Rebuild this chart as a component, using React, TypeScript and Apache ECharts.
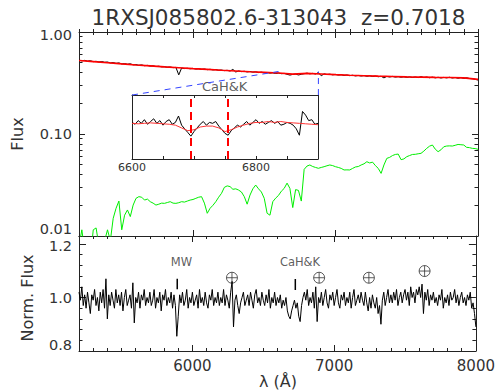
import React, { useEffect, useRef } from 'react';
import * as echarts from 'echarts';

// ---------------- data ----------------
const TITLE = '1RXSJ085802.6-313043  z=0.7018';
const WAVE_MIN = 5200;
const WAVE_MAX = 8000;

// normalized flux (bottom panel), 10 A grid
const RESID_START = 5200;
const RESID_STEP = 10;
const residFlux = [
  1.02, 0.99, 1.04, 0.97, 1.01, 0.96, 1.02, 0.98, 0.94, 1.01,
  0.99, 1.03, 0.97, 1.00, 0.95, 1.02, 0.98, 1.03, 0.96, 1.07,
  0.92, 1.01, 0.97, 1.02, 0.99, 0.96, 1.03, 0.98, 1.01, 0.97,
  1.02, 0.95, 1.00, 1.03, 0.97, 0.99, 1.01, 0.96, 1.055, 0.905,
  1.00, 0.98, 1.02, 0.96, 1.01, 0.99, 1.03, 0.97, 1.00, 0.98,
  1.02, 0.97, 0.99, 1.03, 0.96, 1.00, 0.98, 1.02, 0.95, 1.01,
  0.99, 1.03, 0.97, 1.00, 0.98, 1.02, 0.96, 1.01, 0.97, 0.855,
  0.93, 1.01, 0.98, 1.02, 0.97, 0.99, 1.03, 0.96, 1.00, 0.98,
  1.02, 0.97, 0.99, 1.01, 0.96, 1.03, 0.98, 1.00, 0.97, 1.02,
  0.98, 0.96, 1.01, 0.99, 1.03, 0.97, 1.00, 0.98, 1.02, 0.97,
  1.00, 0.98, 1.03, 0.97, 1.01, 0.99, 0.96, 1.02, 1.06, 0.89,
  0.99, 1.01, 0.97, 0.94, 0.98, 1.00, 1.02, 0.97, 0.99, 1.01,
  0.97, 1.02, 0.99, 0.96, 1.01, 1.03, 0.98, 1.00, 0.97, 1.02,
  0.99, 0.97, 1.01, 0.98, 1.03, 0.96, 1.00, 0.98, 1.02, 0.97,
  1.00, 0.98, 1.01, 0.96, 0.99, 0.97, 1.00, 0.95, 0.93, 0.92,
  0.95, 0.97, 0.99, 0.96, 0.98, 0.93, 0.91, 0.97, 1.00, 1.02,
  0.99, 1.03, 0.97, 1.00, 0.98, 1.02, 0.96, 1.04, 0.91, 1.00,
  0.98, 1.02, 0.97, 1.00, 1.03, 0.98, 0.96, 1.01, 0.99, 1.02,
  0.97, 1.00, 1.03, 0.98, 0.96, 1.01, 0.99, 1.02, 0.97, 1.00,
  0.98, 1.02, 0.96, 1.00, 1.03, 0.97, 0.99, 1.01, 0.98, 1.02,
  0.99, 0.97, 1.02, 0.98, 0.95, 1.00, 0.96, 1.01, 0.98, 0.96,
  1.00, 0.94, 0.97, 0.90, 0.99, 1.02, 0.97, 1.00, 1.03, 0.98,
  1.01, 0.98, 1.02, 0.99, 1.03, 0.97, 1.00, 1.02, 0.98, 1.01,
  1.03, 0.99, 1.02, 0.97, 1.04, 1.00, 1.02, 0.98, 1.03, 1.01,
  1.04, 1.00, 1.05, 0.94, 1.02, 0.99, 1.03, 0.97, 1.01, 0.99,
  1.02, 0.98, 1.00, 0.97, 1.01, 0.99, 1.03, 0.96, 1.00, 0.98,
  1.01, 0.97, 1.02, 0.99, 1.00, 1.03, 0.98, 1.01, 0.97, 1.00,
  1.02, 0.98, 1.00, 0.97, 1.01, 0.99, 1.02, 0.96, 0.98, 0.94,
  0.89,
];

// observed flux (top panel, black), 20 A grid
const OBS_START = 5200;
const OBS_STEP = 20;
const obsFlux = [
  0.53, 0.522, 0.527, 0.518, 0.523, 0.512, 0.516, 0.508, 0.513, 0.505,
  0.508, 0.497, 0.502, 0.493, 0.498, 0.486, 0.49, 0.483, 0.488, 0.476,
  0.479, 0.472, 0.476, 0.467, 0.471, 0.463, 0.466, 0.458, 0.462, 0.455,
  0.457, 0.451, 0.454, 0.447, 0.45, 0.38, 0.443, 0.438, 0.441, 0.436,
  0.44, 0.433, 0.436, 0.43, 0.434, 0.427, 0.431, 0.425, 0.428, 0.421,
  0.424, 0.418, 0.421, 0.414, 0.43, 0.405, 0.416, 0.409, 0.412, 0.406,
  0.41, 0.404, 0.407, 0.4, 0.404, 0.398, 0.401, 0.395, 0.398, 0.392,
  0.396, 0.39, 0.393, 0.385, 0.378, 0.384, 0.387, 0.379, 0.385, 0.39,
  0.395, 0.389, 0.393, 0.387, 0.4, 0.372, 0.389, 0.383, 0.386, 0.38,
  0.384, 0.378, 0.381, 0.375, 0.379, 0.373, 0.377, 0.371, 0.375, 0.37,
  0.374, 0.368, 0.372, 0.366, 0.37, 0.364, 0.368, 0.355, 0.367, 0.362,
  0.367, 0.361, 0.365, 0.36, 0.364, 0.359, 0.363, 0.358, 0.362, 0.357,
  0.365, 0.358, 0.362, 0.356, 0.361, 0.355, 0.36, 0.354, 0.359, 0.355,
  0.36, 0.354, 0.358, 0.352, 0.357, 0.351, 0.356, 0.35, 0.348, 0.344,
  0.338,
];

// model (top panel, red), 100 A grid
const MODEL_START = 5200;
const MODEL_STEP = 100;
const modelFlux = [
  0.525, 0.512, 0.5, 0.487, 0.475, 0.465, 0.455, 0.446, 0.437, 0.43,
  0.422, 0.415, 0.408, 0.402, 0.396, 0.386, 0.393, 0.388, 0.382, 0.377,
  0.373, 0.369, 0.366, 0.363, 0.361, 0.359, 0.358, 0.355, 0.343,
];

// template (top panel, green), 20 A grid
const TEMPLATE_START = 5200;
const TEMPLATE_STEP = 20;
const templateFlux = [
  0.008, 0.0115, 0.007, 0.009, 0.006, 0.0115, 0.012, 0.008, 0.007, 0.009,
  0.0115, 0.009, 0.0149, 0.0187, 0.022, 0.0115, 0.016, 0.018, 0.0155, 0.0201,
  0.0234, 0.0243, 0.024, 0.0225, 0.023, 0.0217, 0.021, 0.0201, 0.0205, 0.021,
  0.0209, 0.0213, 0.0217, 0.021, 0.0209, 0.0212, 0.0217, 0.0215, 0.022, 0.0225,
  0.0228, 0.0234, 0.024, 0.0243, 0.021, 0.0167, 0.0187, 0.02, 0.0217, 0.024,
  0.0262, 0.03, 0.031, 0.0305, 0.0287, 0.029, 0.0282, 0.027, 0.0243, 0.0205,
  0.0252, 0.029, 0.0316, 0.029, 0.027, 0.0234, 0.0167, 0.016, 0.0217, 0.0235,
  0.025, 0.0275, 0.0293, 0.033, 0.0293, 0.019, 0.0285, 0.028, 0.022, 0.045,
  0.0485, 0.0497, 0.048, 0.047, 0.0461, 0.047, 0.0478, 0.0488, 0.0497, 0.049,
  0.0478, 0.047, 0.046, 0.0444, 0.0445, 0.0444, 0.046, 0.0475, 0.048, 0.0497,
  0.051, 0.0535, 0.052, 0.053, 0.049, 0.046, 0.0411, 0.0497, 0.0577, 0.059,
  0.0615, 0.063, 0.0636, 0.056, 0.057, 0.0599, 0.0615, 0.063, 0.0632, 0.064,
  0.0646, 0.068, 0.0723, 0.076, 0.078, 0.071, 0.0671, 0.07, 0.075, 0.0762,
  0.0765, 0.0762, 0.0775, 0.079, 0.0785, 0.078, 0.074, 0.0735, 0.0723, 0.072,
  0.0708,
];

// inset: observed (5 A grid) and model (10 A grid), normalized
const INSET_MIN = 6600;
const INSET_MAX = 6900;
const INSET_OBS_STEP = 5;
const insetObs = [
  1.0, 0.98, 1.02, 0.99, 1.03, 0.98, 1.01, 1.04, 0.99, 1.02,
  0.97, 1.01, 1.03, 0.98, 1.0, 1.07, 0.97, 0.93, 0.89, 0.85,
  0.9, 0.94, 0.98, 1.01, 0.97, 1.0, 0.99, 1.01, 0.96, 0.92,
  0.88, 0.86, 0.91, 0.94, 0.97, 0.95, 0.98, 1.01, 0.97, 1.0,
  1.03, 0.99, 1.01, 0.98, 1.0, 1.02, 0.99, 1.01, 0.97, 0.98,
  1.0, 0.99, 0.97, 0.93, 0.86, 1.12, 1.08, 1.02, 1.03, 0.98,
  0.99,
];
const INSET_MODEL_STEP = 10;
const insetModel = [
  0.99, 0.985, 0.99, 0.995, 0.99, 0.985, 0.98, 0.97, 0.94, 0.91,
  0.92, 0.95, 0.96, 0.96, 0.94, 0.9, 0.92, 0.95, 0.97, 0.99,
  1.0, 1.0, 1.01, 1.0, 1.01, 1.0, 0.995, 0.99, 0.985, 0.98,
  0.975,
];
const caLines = [6694, 6754];

// annotations
const telluricMarks = [[6279, 1.074], [6894, 1.074], [7245, 1.074], [7638, 1.099]];
const mwTick = [[5893, 1.031], [5893, 1.07]];
const caTick = [[6726, 1.028], [6726, 1.069]];
const bottomLabels = [
  { name: 'MW', value: [5923, 1.133] },
  { name: 'CaH&K', value: [6759, 1.134] },
];
const topLabels = [{ name: 'CaH&K', value: [6222, 0.294] }];
const connectorLeft = [[5572, 0.241], [6600, 0.41]];
const connectorRight = [[6880, 0.241], [6880, 0.41]];

const xMajor = [6000, 7000, 8000];
const insetLabels = [6600, 6800];
const normMajor = [0.8, 1.0, 1.2];
const normMinor = [0.84, 0.88, 0.92, 0.96, 1.04, 1.08, 1.12, 1.16];

// ---------------- helpers ----------------
const FONT = 'DejaVu Sans';
const INK = '#222';
const TXT = '#333';
const YFS = 14.5;

const grid = (xs: number[], s: number, step: number) => xs.map((v, i) => [s + i * step, v]);

function baseAxis(extra: any) {
  return {
    type: 'value',
    splitLine: { show: false },
    axisLine: { show: false, lineStyle: { color: INK, width: 1 } },
    axisLabel: { show: false },
    axisTick: { show: false },
    ...extra,
  };
}
function ticks(len: number, extra: any = {}) {
  return { show: true, inside: true, length: len, lineStyle: { color: INK, width: 1 }, ...extra };
}

export default function App() {
  const ref = useRef<HTMLDivElement>(null);
  useEffect(() => {
    document.body.style.margin = '0';
    const chart = echarts.init(ref.current!, null, { renderer: 'svg' });

    const minorLog: number[] = [];
    for (const d of [-2, -1]) for (let k = 2; k <= 9; k++) minorLog.push(d + Math.log10(k));

    const plain = (v: number) => String(Math.round(v));

    const xAxes: any[] = [];
    const yAxes: any[] = [];
    // grid 0 (top) x axes: 0..3
    for (const pos of ['bottom', 'top']) {
      xAxes.push(baseAxis({ gridIndex: 0, position: pos, min: WAVE_MIN, max: WAVE_MAX,
        axisLine: { show: true, onZero: false, lineStyle: { color: INK } },
        axisTick: ticks(6, { customValues: xMajor }) }));
      xAxes.push(baseAxis({ gridIndex: 0, position: pos, min: WAVE_MIN, max: WAVE_MAX, interval: 100,
        axisTick: ticks(3) }));
    }
    // grid 1 (bottom) x axes: 4..7
    for (const pos of ['bottom', 'top']) {
      xAxes.push(baseAxis({ gridIndex: 1, position: pos, min: WAVE_MIN, max: WAVE_MAX,
        axisLine: { show: true, onZero: false, lineStyle: { color: INK } },
        axisTick: ticks(6, { customValues: xMajor }),
        axisLabel: pos === 'bottom'
          ? { show: true, customValues: xMajor, formatter: plain, fontFamily: FONT, fontSize: 15, color: TXT, margin: 7 }
          : { show: false } }));
      xAxes.push(baseAxis({ gridIndex: 1, position: pos, min: WAVE_MIN, max: WAVE_MAX, interval: 100,
        axisTick: ticks(3) }));
    }
    // inset x axes: 8..9
    for (const pos of ['bottom', 'top']) {
      xAxes.push(baseAxis({ gridIndex: 2, position: pos, min: INSET_MIN, max: INSET_MAX, interval: 50,
        axisLine: { show: true, onZero: false, lineStyle: { color: INK } },
        axisTick: ticks(3),
        axisLabel: pos === 'bottom'
          ? { show: true, customValues: insetLabels, formatter: plain, fontFamily: FONT, fontSize: 11, color: TXT, margin: 3 }
          : { show: false } }));
    }

    // grid 0 y axes: 0 log (data), 1 minor, 2 right major, 3 right minor
    const logLabel = {
      show: true, fontFamily: FONT, fontSize: YFS, color: TXT, margin: 7, lineHeight: 13,
      formatter: (v: number) => {
        const s = v.toFixed(2);
        if (Math.abs(v - 0.01) < 1e-6) return '{lo|' + s + '}';
        if (Math.abs(v - 1) < 1e-6) return '{hi|' + s + '}';
        return s;
      },
      rich: {
        lo: { fontFamily: FONT, fontSize: YFS, color: TXT, lineHeight: 13, padding: [0, 0, 15, 0] },
        hi: { fontFamily: FONT, fontSize: YFS, color: TXT, lineHeight: 13, padding: [5, 0, 0, 0] },
      },
    };
    for (const pos of ['left', 'right']) {
      yAxes.push({
        type: 'log', logBase: 10, gridIndex: 0, position: pos, min: 0.01, max: 1,
        splitLine: { show: false },
        axisLine: { show: true, onZero: false, lineStyle: { color: INK } },
        axisTick: ticks(6),
        axisLabel: pos === 'left' ? logLabel : { show: false },
      });
      yAxes.push(baseAxis({ gridIndex: 0, position: pos, min: -2, max: 0,
        axisTick: ticks(3.5, { customValues: minorLog }) }));
    }
    // grid 1 y axes: 4 left major (data), 5 minor, 6 right major, 7 right minor
    const normLabel = {
      show: true, customValues: normMajor, fontFamily: FONT, fontSize: YFS, color: TXT, margin: 7, lineHeight: 13,
      formatter: (v: number) => {
        if (Math.abs(v - 0.8) < 1e-6) return '{lo|0.8}';
        if (Math.abs(v - 1.2) < 1e-6) return '{top|1.2}';
        return v.toFixed(1);
      },
      rich: {
        lo: { fontFamily: FONT, fontSize: YFS, color: TXT, lineHeight: 13, padding: [0, 0, 12, 0] },
        top: { fontFamily: FONT, fontSize: YFS, color: TXT, lineHeight: 13, padding: [4, 0, 0, 0] },
      },
    };
    for (const pos of ['left', 'right']) {
      yAxes.push(baseAxis({ gridIndex: 1, position: pos, min: 0.8, max: 1.23,
        axisLine: { show: true, onZero: false, lineStyle: { color: INK } },
        axisTick: ticks(7, { customValues: normMajor }),
        axisLabel: pos === 'left' ? normLabel : { show: false } }));
      yAxes.push(baseAxis({ gridIndex: 1, position: pos, min: 0.8, max: 1.23,
        axisTick: ticks(3.5, { customValues: normMinor }) }));
    }
    // inset y axes: 8, 9
    for (const pos of ['left', 'right']) {
      yAxes.push(baseAxis({ gridIndex: 2, position: pos, min: 0.6, max: 1.3,
        axisLine: { show: true, onZero: false, lineStyle: { color: INK } } }));
    }

    const lineS = (x: number, y: number, data: any, color: string, width: number, extra: any = {}) => ({
      type: 'line', xAxisIndex: x, yAxisIndex: y, data, symbol: 'none', showSymbol: false,
      silent: true, lineStyle: { color, width }, itemStyle: { color }, clip: true, ...extra,
    });

    const labelS = (x: number, y: number, data: any, size: number) => ({
      type: 'scatter', xAxisIndex: x, yAxisIndex: y, data, symbolSize: 0, silent: true,
      label: { show: true, position: 'inside', formatter: (p: any) => p.name,
        fontFamily: FONT, fontSize: size, color: TXT },
    });

    const option: any = {
      animation: false,
      backgroundColor: '#fff',
      grid: [
        { left: 79, top: 32, width: 399, height: 204 },
        { left: 79, top: 236, width: 399, height: 115 },
        { left: 132, top: 95, width: 186, height: 64 },
      ],
      xAxis: xAxes,
      yAxis: yAxes,
      graphic: [
        { type: 'text', x: 278.5, y: 17, style: { text: TITLE, fontFamily: FONT, fontSize: 21.5,
          fill: TXT, align: 'center', verticalAlign: 'middle' } },
        { type: 'text', x: 17, y: 134, rotation: Math.PI / 2, style: { text: 'Flux', fontFamily: FONT,
          fontSize: 16, fill: TXT, align: 'center', verticalAlign: 'middle' } },
        { type: 'text', x: 27.5, y: 298, rotation: Math.PI / 2, style: { text: 'Norm. Flux', fontFamily: FONT,
          fontSize: 16, fill: TXT, align: 'center', verticalAlign: 'middle' } },
        { type: 'text', x: 278, y: 381, style: { text: 'λ (Å)', fontFamily: FONT,
          fontSize: 16, fill: TXT, align: 'center', verticalAlign: 'middle' } },
      ],
      series: [
        lineS(0, 0, grid(obsFlux, OBS_START, OBS_STEP), '#000', 1),
        lineS(0, 0, grid(modelFlux, MODEL_START, MODEL_STEP), '#ff0000', 1.6),
        lineS(0, 0, grid(templateFlux, TEMPLATE_START, TEMPLATE_STEP), '#00ee00', 1),
        lineS(0, 0, connectorLeft, '#3344ff', 1, { lineStyle: { color: '#3344ff', width: 1, type: [6, 5] } }),
        lineS(0, 0, connectorRight, '#3344ff', 1, { lineStyle: { color: '#3344ff', width: 1, type: [6, 5] } }),
        labelS(0, 0, topLabels, 13),

        lineS(4, 4, grid(residFlux, RESID_START, RESID_STEP), '#000', 1),
        lineS(4, 4, mwTick, '#000', 1.5),
        lineS(4, 4, caTick, '#000', 1.5),
        labelS(4, 4, bottomLabels, 11.5),
        {
          type: 'scatter', xAxisIndex: 4, yAxisIndex: 4, data: telluricMarks, silent: true,
          symbol: 'path://M0,-10A10,10 0 1,1 0,10A10,10 0 1,1 0,-10Z M-10,0L10,0 M0,-10L0,10',
          symbolSize: 11,
          itemStyle: { color: 'none', borderColor: '#333', borderWidth: 1 },
        },

        lineS(8, 8, grid(insetObs, INSET_MIN, INSET_OBS_STEP), '#000', 1),
        lineS(8, 8, grid(insetModel, INSET_MIN, INSET_MODEL_STEP), '#ff3333', 1, {
          markLine: {
            silent: true, symbol: 'none', label: { show: false },
            lineStyle: { color: '#ff0000', width: 2, type: [8, 5] },
            data: caLines.map((x) => ({ xAxis: x })),
          },
        }),
      ],
    };
    chart.setOption(option);
    return () => chart.dispose();
  }, []);
  return <div ref={ref} style={{ width: 498, height: 392 }} />;
}
